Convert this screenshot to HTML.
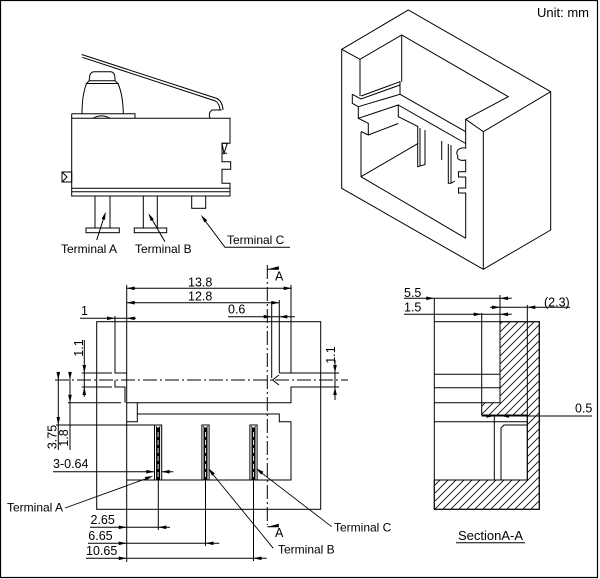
<!DOCTYPE html>
<html><head><meta charset="utf-8"><style>
html,body{margin:0;padding:0;background:#fff;}
svg{display:block;}
text{font-family:"Liberation Sans",Arial,sans-serif;fill:#000;}
</style></head><body>
<svg width="600" height="579" viewBox="0 0 600 579" xmlns="http://www.w3.org/2000/svg">
<defs>
<pattern id="h" patternUnits="userSpaceOnUse" width="8" height="8">
<path d="M-2,2 L2,-2 M0,8 L8,0 M6,10 L10,6" stroke="#000" stroke-width="0.8"/>
</pattern>
</defs>
<rect x="0.5" y="0.5" width="597" height="577" fill="#fff" stroke="#000" stroke-width="1.2"/>

<text x="537" y="17" font-size="13">Unit: mm</text>

<!-- ============ TOP-LEFT SWITCH ============ -->
<g fill="none" stroke="#000" stroke-width="1">
<path d="M81.7,54.5 L217,98.5 Q222.5,101.5 223,110"/>
<path d="M82.3,57.3 L215.5,101 Q219.5,103.5 220,110"/>
<path d="M221.7,110 H212 Q208,113 210,118.3"/>
<path d="M89.3,80.7 Q89,72 94,71.7 H110.7 Q115.5,72 115,80.7 Z"/>
<path d="M89.3,80.7 L86.5,83.5 H118 L115,80.7"/>
<path d="M86.5,83.5 Q82,95 82,113.7 M118,83.5 Q123,95 123.3,113.7"/>
<path d="M93,118.3 Q101.5,113.5 110,118.3"/>
<path d="M71.7,113.7 H135 V118.3"/>
<path d="M71.7,113.7 V196 H230 V183.3 H222 V169.3 H230.7 V161.7 H222 V143.3 H230 V118.3 H71.7"/>
<path d="M71.7,188.3 H230 M71.7,191.7 H230"/>
<path d="M222,143.3 H227.3 L224,153.3 Z M222,153.3 H227"/>
<rect x="62" y="172" width="9.7" height="10"/>
<path d="M62,172 L67,177 L62,182"/>
<rect x="95" y="196" width="15" height="32"/>
<rect x="86" y="228" width="33.3" height="4.7"/>
<rect x="143.3" y="196" width="14" height="32"/>
<rect x="134.3" y="228" width="32.4" height="4.7"/>
<rect x="191.7" y="196" width="14" height="12.3"/>
<path d="M96.7,240 L105,214 M165,241.7 L150,216 M290,247.3 H225 L203,218"/>
</g>
<g fill="#000" stroke="none">
<polygon points="105.7,211.7 105,219.9 101.6,218.8"/>
<polygon points="148.3,213.3 153.9,219.3 150.8,221.1"/>
<polygon points="201,215 207.2,220.3 204.4,222.5"/>
</g>
<text x="61" y="253" font-size="12">Terminal A</text>
<text x="135" y="253" font-size="12">Terminal B</text>
<text x="227" y="244" font-size="12">Terminal C</text>

<!-- ============ ISOMETRIC VIEW ============ -->
<g fill="none" stroke="#000" stroke-width="1">
<path d="M341.7,49.3 L408.3,10 L550.7,91.7 V230 L483.3,269.3 L341.7,188.3 Z"/>
<path d="M341.7,49.3 L360,59.3 L401.7,35 L508.3,96.7 L465.7,119.3 L483.3,131.7 L550.7,91.7"/>
<path d="M483.3,131.7 V269.3"/>
<path d="M401.7,35 V81.7"/>
<path d="M360,59.3 V96"/>
<path d="M361,132.3 V176.7 L465.7,238.3"/>
<path d="M361,176.7 L418.3,143.3"/>
<path d="M352.3,94.3 V103.3 L358.3,106.7 V118.3 L368.3,123.3 V135 L361,131.5"/>
<path d="M352.3,94.3 L361,99 L400,85"/>
<path d="M361,96 L400,81.7 V94.3"/>
<path d="M358.3,106.7 L400,94.3 L465.7,131.7"/>
<path d="M358.3,118.3 L398.3,105 V116.7 L418.3,126.7"/>
<path d="M398.3,105 L465.7,143.5"/>
<path d="M368.3,135 L398.3,123.5"/>
<path d="M465.7,119.3 V148 C458,147 455,152 458,156 C456,160 462,161 465.7,160 V171.7 H458.5 V177 H465.7 V188 H458.5 V193 H465.7 V238.3"/>
<path d="M417.7,126 V166.7 L425,164.5 V130 M420,128 V166.5"/>
<path d="M441.7,141 V160 M448.3,144 V183.3 H451 L455,181 M451,145 V183.3"/>
</g>

<!-- ============ BOTTOM-LEFT VIEW ============ -->
<g fill="none" stroke="#000" stroke-width="1">
<rect x="96.7" y="321.7" width="224" height="187.6"/>
<path d="M115,321.7 V373 H126.7"/>
<path d="M115,380 V387 H125 V402.7"/>
<path d="M126.7,285 V562"/>
<path d="M126.7,402.7 H291 V387 H339"/>
<path d="M279.3,373 H339"/>
<path d="M291,285 V373"/>
<path d="M279.3,300 V373"/>
<path d="M271.7,301.7 V378"/>
<path d="M279,375 L272.5,380 L279,385"/>
<path d="M137.3,402.7 V421.7 H126.7"/>
<path d="M137.3,414 H279.3 V421.7 H291 V480 H126.7"/>
<!-- ext lines -->
<path d="M115,316 V321.7"/>
<path d="M81.7,373 H112 M81.7,387 H112"/>
<path d="M68,402.7 H121"/>
<path d="M56,425 H154"/>
<path d="M158.3,480 V530 M205.5,480 V546 M253.5,480 V561"/>
<!-- dim lines -->
<path d="M126.7,288.3 H291.7 M126.7,302.7 H279.3 M80,318.3 H136 M228,316.7 H295"/>
<path d="M84.3,340 V396.7 M58.3,371.7 V450 M70,371.7 V450 M335,360 V400"/>
<path d="M53,471.7 H173.3 M90,527.3 H170 M88,543.3 H219.3 M86,558.3 H266.7"/>
<path d="M267.3,269.3 H279 M267.3,526.7 H279"/>
</g>
<g fill="none" stroke="#000" stroke-width="1" stroke-dasharray="14,3,2,3">
<path d="M55,380 H348"/>
<path d="M267.3,265 V525"/>
</g>
<!-- pins -->
<g stroke="#000" stroke-width="1">
<rect x="154.5" y="425" width="7.2" height="55" fill="#fff"/>
<rect x="156.6" y="428" width="3" height="52" fill="#000"/>
<rect x="201.9" y="425" width="7.2" height="55" fill="#fff"/>
<rect x="204" y="428" width="3" height="52" fill="#000"/>
<rect x="249.9" y="425" width="7.2" height="55" fill="#fff"/>
<rect x="252" y="428" width="3" height="52" fill="#000"/>
</g>
<g stroke="#fff" stroke-width="0.9" stroke-dasharray="5,3">
<path d="M158.1,432 V478 M205.5,432 V478 M253.5,432 V478"/>
</g>
<g fill="none" stroke="#000" stroke-width="0.8">
<path d="M156,426 L158.1,430 L160.2,426 M203.4,426 L205.5,430 L207.6,426 M251.4,426 L253.5,430 L255.6,426"/>
</g>
<!-- leaders -->
<g fill="none" stroke="#000" stroke-width="0.9">
<path d="M65,508 L146,478.7 M273.3,548.3 L213,474.5 M331.7,526.7 L262,473.2"/>
</g>
<g fill="#000" stroke="none">
<polygon points="153,476 146.1,480.4 144.9,477"/>
<polygon points="208.3,468.3 214.8,473.4 212,475.7"/>
<polygon points="256,468.3 263.4,471.8 261.2,474.6"/>
<path d="M126.7,288.3 l8,-1.8 v3.6z M291.7,288.3 l-8,-1.8 v3.6z"/>
<path d="M126.7,302.7 l8,-1.8 v3.6z M279.3,302.7 l-8,-1.8 v3.6z"/>
<path d="M115,318.3 l-8,-1.8 v3.6z M126.7,318.3 l8,-1.8 v3.6z"/>
<path d="M271.7,316.7 l-8,-1.8 v3.6z M279.3,316.7 l8,-1.8 v3.6z"/>
<path d="M84.3,373 l-1.8,-8 h3.6z M84.3,387 l-1.8,8 h3.6z"/>
<path d="M58.3,380 l-1.8,-8 h3.6z M58.3,425 l-1.8,-8 h3.6z"/>
<path d="M70,380 l-1.8,-8 h3.6z M70,402.7 l-1.8,-8 h3.6z"/>
<path d="M335,373 l-1.8,-8 h3.6z M335,387 l-1.8,8 h3.6z"/>
<path d="M154.3,471.7 l-8,-1.8 v3.6z M161.7,471.7 l8,-1.8 v3.6z"/>
<path d="M126.7,527.3 l-8,-1.8 v3.6z M158.3,527.3 l8,-1.8 v3.6z"/>
<path d="M126.7,543.3 l-8,-1.8 v3.6z M205.5,543.3 l8,-1.8 v3.6z"/>
<path d="M126.7,558.3 l-8,-1.8 v3.6z M253.5,558.3 l8,-1.8 v3.6z"/>
<path d="M267.8,269.3 l11,-3 v3z M267.8,526.7 l11,-3 v3z"/>
</g>
<g font-size="12.5">
<text x="188" y="286.5">13.8</text>
<text x="188" y="300.5">12.8</text>
<text x="81" y="315">1</text>
<text x="228" y="313.5">0.6</text>
<text x="275" y="280.5">A</text>
<text x="275" y="537">A</text>
<text x="53" y="468">3-0.64</text>
<text x="90.5" y="524">2.65</text>
<text x="88.3" y="540">6.65</text>
<text x="86" y="555">10.65</text>
<text transform="translate(83,348) rotate(-90)" text-anchor="middle">1.1</text>
<text transform="translate(335,355) rotate(-90)" text-anchor="middle">1.1</text>
<text transform="translate(56.5,437) rotate(-90)" text-anchor="middle">3.75</text>
<text transform="translate(68,438) rotate(-90)" text-anchor="middle">1.8</text>
</g>
<text x="7" y="511.5" font-size="12">Terminal A</text>
<text x="278" y="553.5" font-size="12">Terminal B</text>
<text x="334" y="531.5" font-size="12">Terminal C</text>

<!-- ============ SECTION A-A ============ -->
<path d="M500,321.7 H539.3 V509.3 H434.3 V480 H527.3 V415 H481.7 V402.7 H500 Z" fill="url(#h)" stroke="#000" stroke-width="1"/>
<g fill="none" stroke="#000" stroke-width="1">
<rect x="434.3" y="321.7" width="105" height="187.6"/>
<path d="M527.3,305 V480"/>
<path d="M434.3,374.3 H500 M434.3,387.7 H500 M434.3,402.7 H481.7"/>
<path d="M481.7,313 V402.7"/>
<path d="M434.3,298.3 V321.7 M500,295 V321.7"/>
<path d="M434.3,421.7 H527.3"/>
<path d="M494.3,415 V480 M501,428 V480 M501,428 L504,425 H527.3"/>
<path d="M404,298.3 H511.7 M404,314.3 H511.7 M490,307.3 H570 M481.7,416 H592"/>
<path d="M456,542.7 H525"/>
</g>
<g fill="#000" stroke="none">
<path d="M434.3,298.3 l-8,-1.8 v3.6z M500,298.3 l8,-1.8 v3.6z"/>
<path d="M481.7,314.3 l-8,-1.8 v3.6z M500,314.3 l8,-1.8 v3.6z"/>
<path d="M500,307.3 l-8,-1.8 v3.6z M527.3,307.3 l8,-1.8 v3.6z"/>
<path d="M494.3,416 l-8,-1.8 v3.6z M501,416 l8,-1.8 v3.6z"/>
</g>
<g font-size="12.5">
<text x="404" y="297">5.5</text>
<text x="404" y="311.5">1.5</text>
<text x="544" y="306.5">(2.3)</text>
<text x="575" y="412.5">0.5</text>
</g>
<text x="458" y="540" font-size="13">SectionA-A</text>
</svg>
</body></html>
